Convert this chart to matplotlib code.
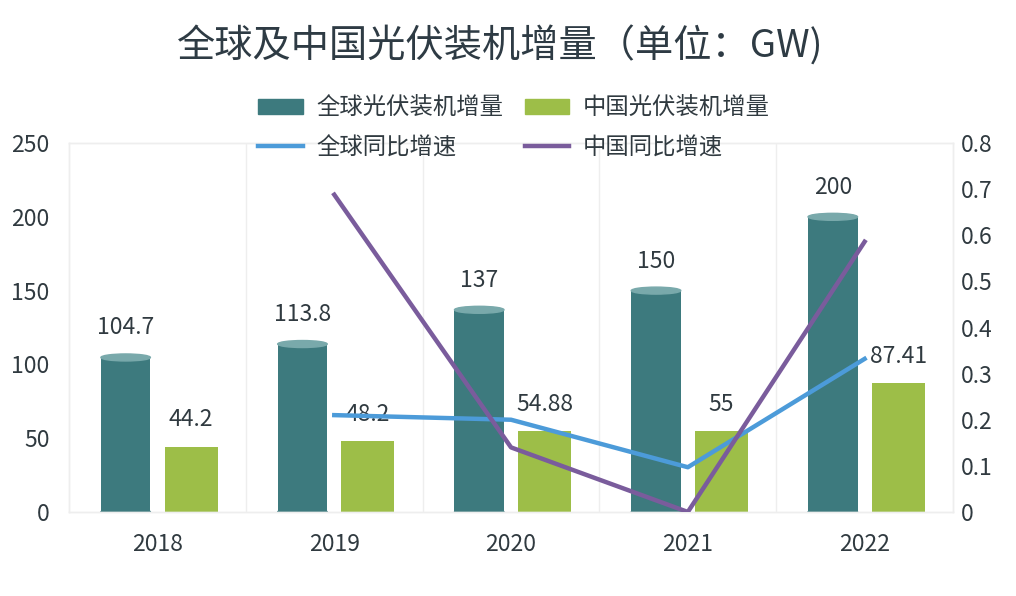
import matplotlib
matplotlib.use("Agg")
import matplotlib.pyplot as plt
import numpy as np
from matplotlib.patches import Ellipse, Patch
from matplotlib.lines import Line2D

plt.rcParams["font.family"] = ["Noto Sans CJK SC", "DejaVu Sans"]

years = ["2018", "2019", "2020", "2021", "2022"]
global_add = [104.7, 113.8, 137, 150, 200]
china_add = [44.2, 48.2, 54.88, 55, 87.41]
global_labels = ["104.7", "113.8", "137", "150", "200"]
china_labels = ["44.2", "48.2", "54.88", "55", "87.41"]
# growth lines start from 2019
growth_years = ["2019", "2020", "2021", "2022"]
global_growth = [0.21, 0.20, 0.097, 0.332]
china_growth = [0.688, 0.14, 0.0, 0.586]

TEAL = "#3D7A7E"
TEAL_TOP = "#79A9AB"
GREEN = "#9DBE48"
BLUE = "#4C9BD9"
PURPLE = "#7A5C9C"
TEXT = "#303A40"

fig = plt.figure(figsize=(10.16, 5.96), dpi=100)
ax_h = 0.619
ax = fig.add_axes([0.068, 0.141, 0.870, ax_h])
ax2 = ax.twinx()

x = np.arange(len(years))
tw, gw = 0.28, 0.30
tx = x - 0.18
gx = x + 0.19

ax.bar(tx, global_add, width=tw, color=TEAL, zorder=2)
ax.bar(gx, china_add, width=gw, color=GREEN, zorder=2)

# cylinder caps: ellipse height ~7 px converted to data units
ymax = 250
px_per_unit = ax_h * 596 / ymax
eh = 7 / px_per_unit
for xi, v in zip(tx, global_add):
    ax.add_patch(Ellipse((xi, 0), tw, eh, color=TEAL, zorder=2))
    ax.add_patch(Ellipse((xi, v), tw, eh, color=TEAL_TOP, zorder=3))

for xi, v, s in zip(tx, global_add, global_labels):
    ax.annotate(s, (xi, v), xytext=(0, 13), textcoords="offset points",
                ha="center", va="bottom", fontsize=16.5, color=TEXT, zorder=5)
for xi, v, s in zip(gx, china_add, china_labels):
    ax.annotate(s, (xi, v), xytext=(0, 11), textcoords="offset points",
                ha="center", va="bottom", fontsize=16.5, color=TEXT, zorder=5)

gpos = [years.index(y) for y in growth_years]
ax2.plot(gpos, global_growth, color=BLUE, lw=3.2, zorder=4, solid_joinstyle="round")
ax2.plot(gpos, china_growth, color=PURPLE, lw=3.2, zorder=4, solid_joinstyle="round")

ax.set_xlim(-0.5, len(years) - 0.5)
ax.set_ylim(0, ymax)
ax2.set_ylim(0, 0.8)
ax.set_yticks(np.arange(0, 251, 50))
ax2.set_yticks(np.arange(0, 0.81, 0.1))
ax2.set_yticklabels(["0"] + [f"{v:.1f}" for v in np.arange(0.1, 0.81, 0.1)])
ax.set_xticks(x)
ax.set_xticklabels(years)

ax.tick_params(axis="y", length=0, labelsize=16.5, colors=TEXT, pad=14)
ax2.tick_params(axis="y", length=0, labelsize=16.5, colors=TEXT, pad=6)
ax.tick_params(axis="x", length=0, labelsize=16.5, colors=TEXT, pad=15)

for b in np.arange(0.5, len(years) - 0.5, 1):
    ax.axvline(b, color="#EEEEEE", lw=1, zorder=0)
for a in (ax, ax2):
    for sp in a.spines.values():
        sp.set_color("#EEEEEE")
        sp.set_linewidth(1)

ax2.set_zorder(ax.get_zorder() + 1)
ax2.patch.set_visible(False)

handles = [
    Patch(color=TEAL, label="全球光伏装机增量"),
    Line2D([], [], color=BLUE, lw=3.2, label="全球同比增速"),
    Patch(color=GREEN, label="中国光伏装机增量"),
    Line2D([], [], color=PURPLE, lw=3.2, label="中国同比增速"),
]
fig.legend(handles=handles, ncol=2, loc="center", bbox_to_anchor=(0.506, 0.785),
           frameon=False, fontsize=16.8, handlelength=1.9, handleheight=0.6,
           columnspacing=0.9, labelspacing=0.7, handletextpad=0.6,
           labelcolor=TEXT, alignment="left")

fig.text(0.492, 0.922, "全球及中国光伏装机增量（单位：GW)", ha="center", va="center",
         fontsize=27.5, color="#2E3B44")

fig.savefig("out.png", dpi=100)
